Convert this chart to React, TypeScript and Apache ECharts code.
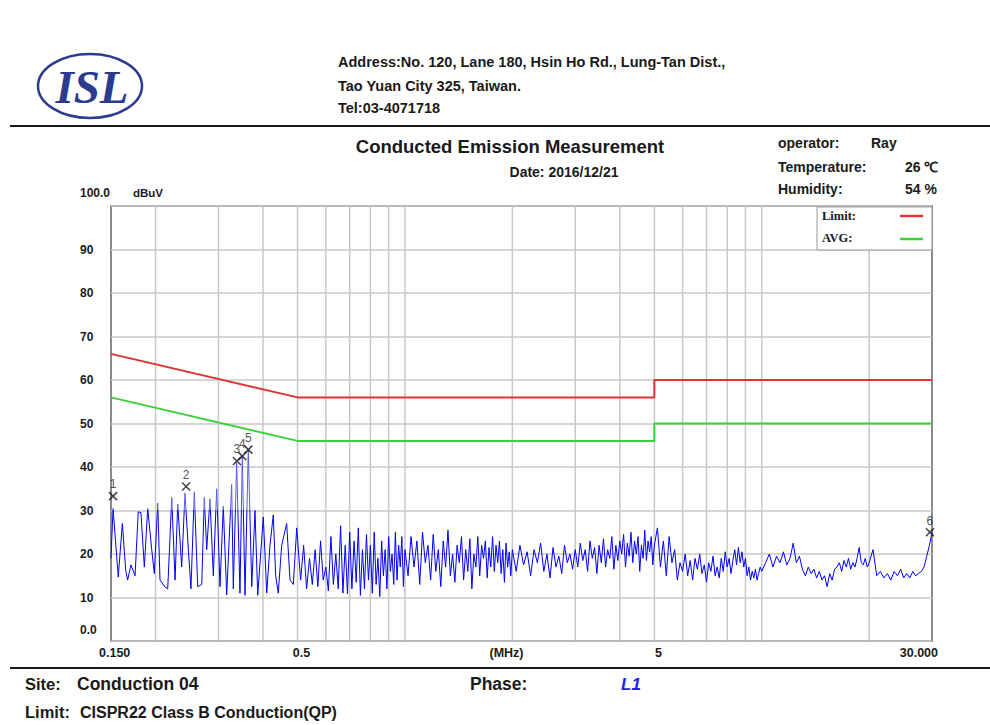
import React, { useEffect, useRef } from 'react';
import * as echarts from 'echarts';

const SANS = "'Liberation Sans', Arial, Helvetica, sans-serif";
const SERIF = "'Liberation Serif', 'Times New Roman', serif";

// Limit lines (MHz, dBuV)
const limitQP: number[][] = [[0.15, 66], [0.5, 56], [5, 56], [5, 60], [30, 60]];
const limitAVG: number[][] = [[0.15, 56], [0.5, 46], [5, 46], [5, 50], [30, 50]];

// Vertical grid frequencies (MHz)
const freqGrid = [0.2, 0.3, 0.4, 0.5, 0.6, 0.7, 0.8, 0.9, 1, 2, 3, 4, 5, 6, 7, 8, 9, 10, 20];

// X tick labels
const xTickLabels = [
  { f: 0.15, text: '0.150' },
  { f: 0.5, text: '0.5' },
  { f: 5, text: '5' },
  { f: 30, text: '30.000' },
];

// Marker readings (MHz, dBuV)
const markers: number[][] = [
  [0.152, 33.3], [0.2435, 35.5], [0.338, 41.4], [0.35, 42.5], [0.364, 44.0], [29.6, 25.0],
];

// Measured trace, 0.15 - 0.5 MHz
const traceLow: number[][] = [
  [0.150, 19], [0.152, 30.5], [0.1572, 14.7], [0.1614, 27], [0.1649, 16.3], [0.1670, 14],
  [0.1706, 17.5], [0.1752, 15], [0.1788, 29.7], [0.1820, 29.5], [0.1860, 17], [0.1901, 30.5],
  [0.1951, 21], [0.1984, 15.5], [0.2028, 31.7], [0.2058, 14], [0.2125, 12.4], [0.2163, 12],
  [0.2220, 33], [0.2268, 14], [0.2307, 31.5], [0.2367, 17], [0.2418, 34], [0.2471, 21],
  [0.2513, 12], [0.2568, 34.3], [0.2625, 12.5], [0.2694, 13], [0.2739, 33], [0.2782, 21],
  [0.2841, 32.7], [0.2903, 15], [0.2967, 35], [0.3031, 12.5], [0.3096, 31], [0.3165, 10.6],
  [0.3268, 36], [0.3303, 12], [0.3375, 41], [0.3448, 11], [0.3500, 42.5], [0.3562, 10.5],
  [0.3638, 44], [0.3720, 12.5], [0.3799, 30], [0.3866, 10.5], [0.4008, 28.5], [0.4098, 11],
  [0.4185, 22], [0.4275, 29], [0.4341, 15], [0.4415, 11], [0.4513, 22], [0.4661, 27],
  [0.4762, 14], [0.4865, 13], [0.4973, 26],
];

// 0.5 - 1 MHz
const traceB: number[][] = [
  [0.51, 14], [0.52, 22], [0.53, 12], [0.54, 19], [0.55, 13], [0.56, 21], [0.57, 12.5], [0.58, 23],
  [0.59, 14], [0.60, 17], [0.61, 11.5], [0.62, 24], [0.63, 13], [0.64, 20], [0.65, 12], [0.66, 26.5],
  [0.67, 11], [0.68, 22], [0.69, 10.8], [0.70, 25], [0.71, 12], [0.72, 23], [0.73, 13.5], [0.74, 26],
  [0.75, 10.5], [0.76, 21], [0.77, 12], [0.78, 24.5], [0.79, 14], [0.80, 22], [0.81, 11], [0.82, 25],
  [0.83, 13], [0.84, 19], [0.85, 10.2], [0.86, 23], [0.87, 15], [0.88, 21], [0.89, 12], [0.90, 24],
  [0.91, 16], [0.92, 20], [0.93, 13], [0.94, 25], [0.95, 14], [0.96, 22], [0.97, 17], [0.98, 24],
  [0.99, 12.5], [1.00, 21],
];

// 1 - 2 MHz
const traceC: number[][] = [
  [1.02, 15], [1.04, 24], [1.06, 17], [1.08, 23], [1.10, 13], [1.12, 25], [1.14, 18], [1.16, 22],
  [1.18, 14], [1.20, 24.5], [1.22, 16], [1.24, 21], [1.26, 12.5], [1.28, 23], [1.30, 17], [1.32, 25.5],
  [1.34, 15], [1.36, 20], [1.38, 13.5], [1.40, 22], [1.42, 18], [1.44, 24], [1.46, 14], [1.48, 21],
  [1.50, 16], [1.52, 23.5], [1.54, 12], [1.56, 20], [1.58, 17], [1.60, 24], [1.62, 15], [1.64, 22],
  [1.66, 19], [1.68, 23], [1.70, 14.5], [1.72, 21.5], [1.74, 17], [1.76, 24], [1.78, 16], [1.80, 22],
  [1.82, 18], [1.84, 23], [1.86, 15.5], [1.88, 21], [1.90, 13.5], [1.92, 22.5], [1.94, 17], [1.96, 20.5],
  [1.98, 15], [2.00, 21],
];

// 2 - 5 MHz
const traceD: number[][] = [
  [2.05, 16], [2.10, 22], [2.15, 17.5], [2.20, 20.5], [2.25, 15], [2.30, 21], [2.35, 18], [2.40, 22.5],
  [2.45, 16], [2.50, 20], [2.55, 14.5], [2.60, 21.5], [2.65, 17], [2.70, 19.5], [2.75, 15.5], [2.80, 22],
  [2.85, 18], [2.90, 20], [2.95, 16.5], [3.00, 21], [3.05, 17], [3.10, 22.5], [3.15, 18.5], [3.20, 21],
  [3.25, 16], [3.30, 23], [3.35, 19], [3.40, 21.5], [3.45, 15.5], [3.50, 22], [3.55, 18], [3.60, 23.5],
  [3.65, 17], [3.70, 21], [3.75, 19], [3.80, 24], [3.85, 16.5], [3.90, 22], [3.95, 18.5], [4.00, 23],
  [4.05, 20], [4.10, 24.5], [4.15, 17], [4.20, 22.5], [4.25, 19.5], [4.30, 25], [4.35, 18], [4.40, 23],
  [4.45, 20], [4.50, 24], [4.55, 16], [4.60, 22], [4.65, 19], [4.70, 25.5], [4.75, 18.5], [4.80, 23],
  [4.85, 20.5], [4.90, 24], [4.95, 17.5], [5.00, 22],
];

// 5 - 10 MHz
const traceE: number[][] = [
  [5.1, 26], [5.2, 17], [5.3, 23], [5.4, 15], [5.5, 24], [5.6, 18], [5.7, 21], [5.8, 14],
  [5.9, 18], [6.0, 16], [6.1, 20], [6.2, 15], [6.3, 18.5], [6.4, 14], [6.5, 19], [6.6, 16.5],
  [6.7, 20], [6.8, 15.5], [6.9, 17.5], [7.0, 13.5], [7.1, 18], [7.2, 16], [7.3, 19.5], [7.4, 15],
  [7.5, 17], [7.6, 14.5], [7.7, 19], [7.8, 16], [7.9, 20.5], [8.0, 17], [8.1, 19], [8.2, 15.5],
  [8.3, 18.5], [8.4, 21], [8.5, 17.5], [8.6, 21.5], [8.7, 18], [8.8, 20.5], [8.9, 17], [9.0, 19],
  [9.1, 15], [9.2, 17], [9.3, 14], [9.4, 16], [9.5, 14.5], [9.6, 16.5], [9.7, 14], [9.8, 15.5],
  [9.9, 17], [10.0, 16],
];

// 10 - 20 MHz
const traceF: number[][] = [
  [10.25, 18], [10.5, 20], [10.75, 17], [11.0, 19.5], [11.25, 18], [11.5, 20.5], [11.75, 17.5],
  [12.0, 19], [12.25, 22.5], [12.5, 18], [12.75, 19.5], [13.0, 16.5], [13.25, 15], [13.5, 17],
  [13.75, 15.5], [14.0, 16.5], [14.25, 14.5], [14.5, 16], [14.75, 14], [15.0, 15], [15.25, 12.5],
  [15.5, 15.5], [15.75, 14], [16.0, 16.5], [16.25, 17], [16.5, 18], [16.75, 16], [17.0, 18.5],
  [17.25, 17], [17.5, 19], [17.75, 16.5], [18.0, 18], [18.25, 17], [18.5, 19], [18.75, 21.5],
  [19.0, 18], [19.25, 17.5], [19.5, 19], [19.75, 17], [20.0, 18],
];

// 20 - 30 MHz
const traceG: number[][] = [
  [20.5, 21], [21.0, 15], [21.5, 16], [22.0, 14.5], [22.5, 15.5], [23.0, 14], [23.5, 16], [24.0, 15],
  [24.5, 16.5], [25.0, 14.5], [25.5, 15.5], [26.0, 14.5], [26.5, 16], [27.0, 15], [27.5, 15.5],
  [28.0, 16], [28.5, 17], [29.0, 19.5], [29.5, 22], [30.0, 25],
];

const trace = [...traceLow, ...traceB, ...traceC, ...traceD, ...traceE, ...traceF, ...traceG];

function txt(x: number, y: number, text: string, size: number, opts: any = {}) {
  return {
    type: 'text',
    x,
    y,
    z: 20,
    style: {
      text,
      fontSize: size,
      fontFamily: opts.family || SANS,
      fontWeight: opts.weight || 'bold',
      fontStyle: opts.style || 'normal',
      fill: opts.fill || '#1a1a1a',
      align: opts.align || 'left',
      verticalAlign: 'middle',
    },
  };
}

export default function App() {
  const ref = useRef<HTMLDivElement>(null);

  useEffect(() => {
    const chart = echarts.init(ref.current!, null, { renderer: 'svg' });
    const option: any = {
      animation: false,
      backgroundColor: '#ffffff',
      grid: {
        left: 111,
        right: 58,
        top: 206,
        bottom: 84,
        show: true,
        borderColor: '#8a8a8a',
        borderWidth: 2,
        backgroundColor: 'transparent',
      },
      xAxis: {
        type: 'log',
        logBase: 10,
        min: 0.15,
        max: 30,
        axisLine: { show: false },
        axisTick: { show: false },
        axisLabel: { show: false },
        splitLine: { show: false },
      },
      yAxis: {
        type: 'value',
        min: 0,
        max: 100,
        interval: 10,
        axisLine: { show: false },
        axisTick: { show: false },
        axisLabel: {
          align: 'left',
          margin: 31,
          fontSize: 12,
          fontWeight: 'bold',
          fontFamily: SANS,
          color: '#1a1a1a',
          formatter: (v: number) => (v === 0 || v === 100 ? '' : String(v)),
        },
        splitLine: { lineStyle: { color: '#c8c8c8', width: 1.5 } },
      },
      series: [
        {
          type: 'line',
          data: limitQP,
          symbol: 'none',
          z: 4,
          lineStyle: { color: '#e03333', width: 2 },
        },
        {
          type: 'line',
          data: limitAVG,
          symbol: 'none',
          z: 4,
          lineStyle: { color: '#3ad23a', width: 2 },
        },
        {
          type: 'line',
          data: trace,
          symbol: 'none',
          z: 3,
          lineStyle: { width: 1, color: '#0000ff' },
        },
        {
          type: 'scatter',
          data: markers,
          z: 5,
          symbol: 'path://M0,0L10,10M10,0L0,10',
          symbolSize: 8,
          itemStyle: { color: 'transparent', borderColor: '#111', borderWidth: 1.5 },
          label: {
            show: true,
            position: 'top',
            distance: 1,
            fontSize: 12,
            fontFamily: SANS,
            color: '#222',
            formatter: (p: any) => String(p.dataIndex + 1),
          },
        },
      ],
    };
    chart.setOption(option);

    const px = (f: number) => chart.convertToPixel({ xAxisIndex: 0 }, f) as number;
    const py = (v: number) => chart.convertToPixel({ yAxisIndex: 0 }, v) as number;
    const x0 = px(0.15);
    const x1 = px(30);
    const yTop = py(100);
    const yBot = py(0);
    const y30 = py(30);
    const stop = y30 / 725;

    const gridLines = freqGrid.map((f) => ({
      type: 'line',
      z: 0,
      silent: true,
      shape: { x1: px(f), y1: yTop, x2: px(f), y2: yBot },
      style: { stroke: '#c8c8c8', lineWidth: 1.5 },
    }));

    const elements: any[] = [
      ...gridLines,
      {
        type: 'ellipse',
        z: 20,
        shape: { cx: 90, cy: 86, rx: 52, ry: 32 },
        style: { fill: 'none', stroke: '#2b3b8e', lineWidth: 2.5 },
      },
      txt(92, 87, 'ISL', 47, { family: SERIF, style: 'italic', fill: '#2b3b8e', align: 'center' }),
      txt(338, 62, 'Address:No. 120, Lane 180, Hsin Ho Rd., Lung-Tan Dist.,', 14.5),
      txt(338, 86, 'Tao Yuan City 325, Taiwan.', 14.5),
      txt(338, 108, 'Tel:03-4071718', 14.5),
      {
        type: 'line',
        z: 20,
        shape: { x1: 10, y1: 126, x2: 990, y2: 126 },
        style: { stroke: '#1a1a1a', lineWidth: 2 },
      },
      txt(510, 146, 'Conducted Emission Measurement', 18.5, { align: 'center' }),
      txt(564, 172, 'Date: 2016/12/21', 14, { align: 'center' }),
      txt(778, 143, 'operator:', 14),
      txt(871, 143, 'Ray', 14),
      txt(778, 167, 'Temperature:', 14),
      txt(905, 167, '26 ℃', 14),
      txt(778, 189, 'Humidity:', 14),
      txt(905, 189, '54 %', 14),
      txt(80, yTop - 13, '100.0', 12),
      txt(133, yTop - 13, 'dBuV', 11.5),
      txt(80, yBot - 11, '0.0', 12),
      {
        type: 'rect',
        z: 20,
        shape: { x: 817, y: 207, width: x1 - 817, height: 43 },
        style: { fill: '#ffffff', stroke: '#9a9a9a', lineWidth: 1 },
      },
      txt(822, 216, 'Limit:', 12.5, { family: SERIF }),
      txt(822, 238, 'AVG:', 12.5, { family: SERIF }),
      {
        type: 'line',
        z: 21,
        shape: { x1: 900, y1: 216, x2: 923, y2: 216 },
        style: { stroke: '#e03333', lineWidth: 2.5 },
      },
      {
        type: 'line',
        z: 21,
        shape: { x1: 900, y1: 239, x2: 923, y2: 239 },
        style: { stroke: '#3ad23a', lineWidth: 2.5 },
      },
      ...xTickLabels.map((t) => {
        const p = px(t.f);
        if (t.f === 0.15) return txt(p - 12, yBot + 12, t.text, 12.5, { align: 'left' });
        if (t.f === 30) return txt(p + 6, yBot + 12, t.text, 12.5, { align: 'right' });
        return txt(p + 4, yBot + 12, t.text, 12.5, { align: 'center' });
      }),
      txt((x0 + x1) / 2 - 15, yBot + 12, '(MHz)', 12.5, { align: 'center' }),
      {
        type: 'line',
        z: 20,
        shape: { x1: 10, y1: 668, x2: 990, y2: 668 },
        style: { stroke: '#1a1a1a', lineWidth: 2 },
      },
      txt(25, 684, 'Site:', 16.5),
      txt(77, 684, 'Conduction 04', 17.5),
      txt(470, 684, 'Phase:', 17.5),
      txt(621, 684, 'L1', 17, { style: 'italic', fill: '#1f1fe6' }),
      txt(25, 712, 'Limit:', 16.5),
      txt(80, 712, 'CISPR22 Class B Conduction(QP)', 16),
    ];

    chart.setOption({
      graphic: { elements },
      series: [
        {},
        {},
        {
          lineStyle: {
            color: {
              type: 'linear',
              x: 0,
              y: 0,
              x2: 0,
              y2: 725,
              global: true,
              colorStops: [
                { offset: 0, color: '#5a5af0' },
                { offset: stop, color: '#5a5af0' },
                { offset: stop, color: '#0000ff' },
                { offset: 1, color: '#0000ff' },
              ],
            },
          },
        },
        {},
      ],
    });

    return () => chart.dispose();
  }, []);

  return (
    <div
      ref={ref}
      style={{ position: 'fixed', left: 0, top: 0, width: 990, height: 725, background: '#fff' }}
    />
  );
}
